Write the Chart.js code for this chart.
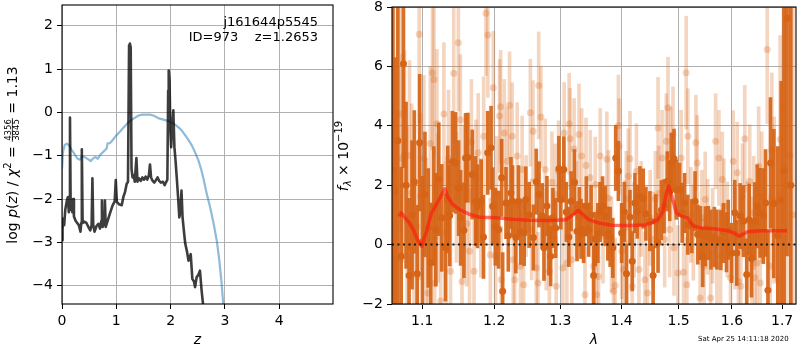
<!DOCTYPE html>
<html>
<head>
<meta charset="utf-8">
<title>p(z) and spectrum</title>
<script src="https://cdn.jsdelivr.net/npm/chart.js@4.4.1/dist/chart.umd.min.js"></script>
<style>
  html, body { margin: 0; padding: 0; background: #fff; }
  body { width: 800px; height: 350px; position: relative; overflow: hidden; }
  canvas { position: absolute; top: 0; }
  #pzChart { left: 0; width: 334px; height: 350px; }
  #specChart { left: 334px; width: 466px; height: 350px; }
  #stamp { position: absolute; left: 698px; top: 335px; font: 7px "DejaVu Sans"; color: #000; white-space: nowrap; }
</style>
</head>
<body>
<canvas id="pzChart" width="334" height="350"></canvas>
<canvas id="specChart" width="466" height="350"></canvas>
<div id="stamp">Sat Apr 25 14:11:18 2020</div>
<script>
Chart.defaults.font.family = "'DejaVu Sans', sans-serif";
Chart.defaults.font.size = 14;
Chart.defaults.color = '#000';
Chart.defaults.animation = false;

// ---- left panel: log p(z) and prior
const zPdf = [0.00,0.01,0.025,0.04,0.06,0.09,0.11,0.125,0.135,0.147,
  0.16,0.175,0.19,0.205,0.22,0.25,0.28,0.31,0.34,0.355,
  0.365,0.38,0.41,0.45,0.49,0.52,0.545,0.56,0.575,0.6,
  0.635,0.67,0.7,0.725,0.735,0.75,0.775,0.79,0.805,0.84,
  0.88,0.93,0.97,0.99,1.01,1.05,1.1,1.13,1.16,1.19,
  1.215,1.235,1.25,1.265,1.28,1.3,1.32,1.34,1.37,1.39,
  1.42,1.45,1.48,1.51,1.54,1.57,1.6,1.62,1.64,1.67,
  1.7,1.73,1.76,1.79,1.82,1.86,1.89,1.92,1.94,1.955,
  1.965,1.98,1.995,2.01,2.03,2.05,2.07,2.09,2.11,2.14,
  2.16,2.18,2.2,2.22,2.25,2.27,2.3,2.33,2.37,2.4,
  2.43,2.45,2.48,2.51,2.54,2.57,2.62,2.67];
const logPdf = [-2.95,-2.7,-2.45,-2.6,-2.25,-2.03,-1.95,-2.3,-1.95,-0.12,
  -2.25,-2.0,-2.3,-2.0,-2.4,-2.5,-2.55,-2.6,-2.75,-2.55,
  -0.85,-2.55,-2.52,-2.55,-2.65,-2.72,-2.6,-1.52,-2.6,-2.75,
  -2.62,-2.57,-2.68,-2.5,-2.03,-2.64,-2.5,-2.03,-2.64,-2.5,
  -2.34,-2.15,-2.05,-1.56,-2.06,-2.12,-2.14,-1.95,-1.84,-1.65,
  -1.6,1.55,1.59,1.5,-1.3,-1.5,-1.45,-1.6,-1.05,-1.6,
  -1.52,-1.58,-1.5,-1.55,-1.48,-1.55,-1.45,-1.2,-1.5,-1.58,
  -1.62,-1.56,-1.5,-1.58,-1.62,-1.6,-1.68,-1.6,-1.55,0.5,
  0.97,0.75,-0.4,-0.8,-0.3,0.05,-0.8,-1.1,-1.45,-2.0,
  -2.42,-2.3,-1.8,-2.42,-2.8,-3.03,-3.2,-3.42,-3.27,-3.84,
  -3.9,-4.03,-3.8,-3.75,-3.65,-4.1,-4.7,-5.3];
const zPrior = [0.0,0.02,0.05,0.09,0.13,0.17,0.21,0.25,0.29,0.33,
  0.37,0.42,0.47,0.53,0.58,0.62,0.66,0.7,0.75,0.8,
  0.82,0.84,0.88,0.93,1.0,1.07,1.13,1.19,1.25,1.33,
  1.41,1.48,1.56,1.62,1.68,1.73,1.77,1.85,1.96,2.04,
  2.1,2.16,2.22,2.27,2.33,2.39,2.45,2.51,2.56,2.6,
  2.66,2.73,2.79,2.85,2.9,2.94,2.97,3.0];
const logPrior = [-1.3,-0.9,-0.75,-0.72,-0.76,-0.85,-0.92,-1.0,-1.07,-1.09,
  -1.01,-1.03,-1.07,-1.12,-1.05,-1.03,-1.07,-0.98,-0.92,-0.86,
  -0.84,-0.71,-0.71,-0.64,-0.53,-0.44,-0.35,-0.27,-0.2,-0.13,
  -0.07,-0.05,-0.05,-0.05,-0.07,-0.1,-0.13,-0.16,-0.2,-0.25,
  -0.3,-0.36,-0.44,-0.53,-0.64,-0.76,-0.92,-1.1,-1.3,-1.5,
  -1.85,-2.2,-2.55,-2.96,-3.45,-3.96,-4.43,-4.9];
const zRange = [0, 4.99];
const logpRange = [-4.42, 2.48];

// ---- right panel: spectrum (flux x 1e-19)
const waveTicks = [1.1, 1.2, 1.3, 1.4, 1.5, 1.6, 1.7];
const waveRange = [1.0605, 1.7288];
const fluxRange = [-2, 8];
const zeroLine = [0, 0];

const darkWave = [1.0616,1.0642,1.0680,1.0723,1.0753,1.0787,1.0826,1.0865,1.0895,1.0934,
  1.0966,1.1003,1.1036,1.1080,1.1115,1.1155,1.1182,1.1222,1.1263,1.1313,
  1.1345,1.1372,1.1409,1.1454,1.1495,1.1523,1.1569,1.1592,1.1624,1.1686,
  1.1733,1.1761,1.1813,1.1846,1.1907,1.1955,1.1978,1.2017,1.2065,1.2109,
  1.2124,1.2173,1.2207,1.2246,1.2270,1.2319,1.2358,1.2393,1.2443,1.2468,
  1.2518,1.2583,1.2627,1.2669,1.2719,1.2745,1.2791,1.2822,1.2848,1.2884,
  1.2926,1.2977,1.3008,1.3055,1.3094,1.3134,1.3170,1.3224,1.3265,1.3303,
  1.3329,1.3372,1.3416,1.3453,1.3493,1.3534,1.3561,1.3604,1.3640,1.3681,
  1.3725,1.3769,1.3808,1.3852,1.3901,1.3946,1.4001,1.4046,1.4084,1.4142,
  1.4181,1.4227,1.4268,1.4314,1.4371,1.4418,1.4487,1.4544,1.4592,1.4631,
  1.4690,1.4737,1.4796,1.4839,1.4868,1.4916,1.4957,1.5018,1.5065,1.5109,
  1.5168,1.5241,1.5301,1.5351,1.5401,1.5443,1.5493,1.5549,1.5598,1.5662,
  1.5711,1.5786,1.5837,1.5894,1.5927,1.5991,1.6054,1.6093,1.6159,1.6224,
  1.6288,1.6336,1.6381,1.6446,1.6497,1.6553,1.6619,1.6663,1.6711,1.6763,
  1.6831,1.6912,1.6980,1.7041,1.7102,1.7180];
const darkFlux = [2.5,1.8,3.5,-0.39,6.09,2.0,-1.04,1.0,2.11,-0.98,
  3.43,0.1,1.69,0.56,-0.6,1.3,0.5,2.2,0.9,-0.1,
  1.52,0.98,2.79,2.75,1.9,0.9,0.48,2.92,2.93,2.36,
  1.47,1.29,1.46,0.26,3.09,3.26,1.29,0.6,0.5,2.25,
  -1.57,1.4,0.3,1.74,1.46,0.24,1.46,0.43,0.39,1.52,
  1.0,0.24,2.12,1.69,0.96,-0.11,1.3,-0.03,-0.39,0.9,
  0.56,2.55,1.52,2.53,1.1,0.26,1.46,2.1,0.45,0.93,
  0.53,0.39,1.29,0.5,1.0,-1.04,0.19,0.39,1.1,1.29,
  0.96,0.37,0.26,-0.11,2.92,2.48,0.39,1.1,-0.98,0.93,
  -0.56,1.4,1.11,1.63,1.55,1.04,0.79,-1.04,0.79,0.06,
  1.16,1.29,2.13,1.8,2.75,2.89,1.85,1.85,1.07,1.4,
  0.67,0.62,1.46,0.34,0.39,-0.42,0.28,0.39,0.17,0.26,
  0.17,0.15,0.39,0.08,0.5,-0.28,1.07,-0.28,0.96,0.79,
  -1.01,0.84,-0.47,0.79,1.29,1.07,0.96,1.4,-1.54,2.75,
  1.38,0.3,1.5,2.5,7.62,2.0];
const darkErr = [7,4.5,6,3,3.5,2.8,2.6,2.5,2.4,2.3,
  2.3,2.2,2.1,2.0,2.0,2.0,1.9,1.9,1.8,1.8,
  1.8,1.7,1.7,1.7,1.6,1.6,1.6,1.5,1.5,1.5,
  1.5,1.4,1.4,1.4,1.4,1.4,1.3,1.3,1.3,1.3,
  1.3,1.2,1.2,1.2,1.2,1.2,1.2,1.1,1.1,1.1,
  1.1,1.1,1.1,1.1,1.1,1.1,1.0,1.0,1.0,1.0,
  1.0,1.1,1.0,1.1,1.0,1.0,1.0,1.1,1.0,1.0,
  1.0,1.0,1.0,0.9,1.0,1.0,0.9,1.0,1.0,1.0,
  1.0,0.9,1.0,1.0,1.1,1.0,1.0,1.0,1.0,0.9,
  1.0,1.0,0.9,1.0,1.0,0.9,1.0,1.0,0.9,1.0,
  1.0,0.9,1.0,1.0,1.0,1.0,1.0,0.9,1.0,1.0,
  1.0,0.9,1.0,1.0,0.9,1.0,1.0,0.9,1.0,1.0,
  1.0,1.0,1.0,1.0,1.0,1.0,1.1,1.1,1.1,1.2,
  1.2,1.2,1.3,1.3,1.4,1.5,1.6,1.8,2.0,2.2,
  2.5,3,4,6,8,8];

const lightWave = [1.0624,1.0662,1.0710,1.0736,1.0766,1.0800,1.0832,1.0861,1.0891,1.0930,
  1.0960,1.0979,1.1022,1.1055,1.1079,1.1108,1.1137,1.1158,1.1167,1.1198,
  1.1212,1.1248,1.1292,1.1322,1.1355,1.1383,1.1427,1.1464,1.1491,1.1519,
  1.1542,1.1573,1.1608,1.1648,1.1674,1.1711,1.1739,1.1770,1.1807,1.1849,
  1.1881,1.1909,1.1945,1.1988,1.2021,1.2036,1.2079,1.2094,1.2104,1.2148,
  1.2192,1.2225,1.2265,1.2280,1.2302,1.2339,1.2387,1.2413,1.2435,1.2473,
  1.2537,1.2556,1.2578,1.2627,1.2653,1.2664,1.2699,1.2764,1.2780,1.2829,
  1.2868,1.2920,1.2935,1.2972,1.3040,1.3060,1.3103,1.3139,1.3155,1.3182,
  1.3218,1.3253,1.3297,1.3340,1.3394,1.3410,1.3480,1.3534,1.3561,1.3582,
  1.3615,1.3643,1.3689,1.3752,1.3780,1.3830,1.3863,1.3891,1.3946,1.3958,
  1.4001,1.4030,1.4058,1.4080,1.4114,1.4143,1.4181,1.4215,1.4254,1.4297,
  1.4336,1.4400,1.4445,1.4492,1.4544,1.4584,1.4631,1.4643,1.4702,1.4749,
  1.4778,1.4808,1.4838,1.4856,1.4898,1.4916,1.4987,1.5046,1.5090,1.5137,
  1.5150,1.5168,1.5223,1.5269,1.5316,1.5340,1.5395,1.5426,1.5468,1.5490,
  1.5536,1.5592,1.5630,1.5686,1.5711,1.5749,1.5781,1.5813,1.5844,1.5908,
  1.5972,1.6023,1.6058,1.6101,1.6126,1.6171,1.6204,1.6249,1.6292,1.6347,
  1.6391,1.6426,1.6450,1.6492,1.6524,1.6557,1.6587,1.6697,1.6757,1.6791,
  1.6837,1.6924,1.6959,1.7027,1.7081,1.7164,1.7226];
const lightFlux = [2.0,-0.5,4.4,2.9,3.03,0.8,3.0,1.74,-1.0,0.6,
  7.08,1.63,2.9,0.2,-1.63,3.4,5.79,5.56,-1.29,4.07,
  1.24,-1.9,4.4,0.4,2.9,-0.9,5.77,1.6,6.8,4.2,
  -1.24,1.9,0.7,-0.22,3.46,-0.9,2.2,3.09,0.9,3.65,
  7.79,7.06,-0.34,5.28,-0.39,1.74,4.33,4.64,-1.18,3.76,
  2.81,4.69,3.65,-0.51,-1.18,2.98,-0.73,2.53,-1.35,1.3,
  4.44,0.51,3.82,-0.79,-1.29,5.36,4.3,2.53,0.17,-0.9,
  2.1,1.69,-1.4,2.47,-0.79,3.76,-0.62,4.07,3.56,-0.51,
  3.22,1.2,3.71,2.98,-1.69,2.66,2.25,-0.73,2.02,-1.69,
  -1.07,2.98,0.3,2.87,1.57,0.0,-1.57,-1.38,4.01,3.31,
  -0.22,-0.84,0.56,1.54,2.3,2.89,-1.4,0.5,2.47,-0.84,
  1.2,-1.18,-1.63,0.9,0.17,1.54,3.93,1.72,2.92,0.17,
  3.48,4.61,0.51,3.03,3.71,-0.11,-0.96,2.92,-0.93,5.79,
  -1.35,3.65,1.0,0.4,3.43,2.75,-1.8,0.9,-0.73,1.52,
  0.6,-1.8,0.3,3.48,-0.71,2.92,-0.39,2.19,1.29,0.51,
  -1.12,2.81,0.2,2.42,-1.24,-1.4,1.6,3.56,0.3,2.13,
  -0.3,1.07,-1.12,-0.62,2.64,-1.29,1.6,6.57,-0.73,3.18,
  1.5,-1.18,3.54,4.57,2.0,3.0,1.0];
const lightErr = [6,5,4,3.5,3.5,3.2,3.2,3.0,3.0,2.9,
  3.0,2.8,2.8,2.7,2.7,2.6,2.6,2.6,2.5,2.5,
  2.5,2.4,2.4,2.4,2.3,2.3,2.3,2.2,2.3,2.2,
  2.2,2.1,2.1,2.1,2.1,2.0,2.0,2.0,2.0,2.0,
  2.1,2.1,1.9,1.9,1.9,1.9,1.9,1.9,1.8,1.8,
  1.8,1.8,1.8,1.8,1.8,1.8,1.8,1.8,1.8,1.7,
  1.8,1.7,1.7,1.7,1.7,1.8,1.7,1.7,1.7,1.7,
  1.7,1.7,1.7,1.7,1.7,1.7,1.7,1.7,1.7,1.7,
  1.7,1.6,1.7,1.6,1.6,1.6,1.6,1.6,1.6,1.6,
  1.6,1.6,1.6,1.6,1.6,1.6,1.6,1.6,1.7,1.6,
  1.6,1.6,1.6,1.6,1.6,1.6,1.6,1.6,1.6,1.6,
  1.6,1.6,1.6,1.6,1.6,1.6,1.7,1.6,1.6,1.6,
  1.6,1.7,1.6,1.6,1.6,1.6,1.6,1.6,1.6,1.9,
  1.6,1.6,1.6,1.6,1.6,1.6,1.6,1.6,1.6,1.6,
  1.6,1.6,1.6,1.6,1.6,1.6,1.6,1.6,1.6,1.6,
  1.7,1.7,1.7,1.7,1.7,1.8,1.8,1.8,1.8,1.9,
  1.9,1.9,2.0,2.0,2.0,2.1,2.2,2.5,2.4,2.6,
  2.8,3.0,3.5,4.5,6,8,8];

const modelWave = [1.0697,1.0723,1.0775,1.0826,1.0882,1.0947,1.0992,1.1058,1.1124,1.1212,
  1.1306,1.1345,1.1413,1.1509,1.1648,1.1789,1.2035,1.2270,1.2518,1.2771,
  1.2926,1.3082,1.3187,1.3281,1.3346,1.3453,1.3615,1.3836,1.4114,1.4398,
  1.4544,1.4631,1.4720,1.4779,1.4821,1.4868,1.4957,1.5047,1.5168,1.5259,
  1.5412,1.5662,1.5913,1.6042,1.6139,1.6204,1.6300,1.6563,1.6831,1.7102];
const modelFlux = [0.95,1.07,0.9,0.75,0.5,0.11,-0.06,0.45,1.07,1.45,
  1.88,1.6,1.35,1.18,1.02,0.92,0.9,0.85,0.82,0.81,
  0.82,0.84,0.98,1.15,1.04,0.84,0.73,0.65,0.64,0.66,
  0.75,0.84,1.12,1.74,1.97,1.69,1.07,0.96,0.9,0.64,
  0.56,0.53,0.47,0.39,0.28,0.34,0.43,0.47,0.47,0.47];

// ---- helpers
function toXY(xs, ys) {
  return xs.map(function (x, i) { return { x: x, y: ys[i] }; });
}
function toBars(xs, ys, es) {
  return xs.map(function (x, i) { return { x: x, y: [ys[i] - es[i], ys[i] + es[i]] }; });
}
function minus(v) { return String(v).replace('-', '\u2212'); }

const REG = '14px "DejaVu Sans"';
const ITA = 'italic 14px "DejaVu Sans"';
const SML = '10px "DejaVu Sans"';
const SMLI = 'italic 10px "DejaVu Sans"';

function richWidth(ctx, parts) {
  let w = 0;
  parts.forEach(function (p) {
    ctx.font = p.font;
    if (p.num) w += Math.max(ctx.measureText(p.num).width, ctx.measureText(p.den).width) + 2;
    else w += ctx.measureText(p.text).width;
  });
  return w;
}

// vertical text, reading bottom to top; local y equals canvas x
function drawRich(ctx, parts, centerY, baseX) {
  ctx.save();
  ctx.translate(0, centerY);
  ctx.rotate(-Math.PI / 2);
  ctx.fillStyle = '#000';
  ctx.textBaseline = 'alphabetic';
  let x = -richWidth(ctx, parts) / 2;
  parts.forEach(function (p) {
    ctx.font = p.font;
    if (p.num) {
      const w = Math.max(ctx.measureText(p.num).width, ctx.measureText(p.den).width) + 2;
      ctx.textAlign = 'center';
      ctx.fillText(p.num, x + w / 2, p.numBase);
      ctx.fillText(p.den, x + w / 2, p.denBase);
      ctx.fillRect(x, p.bar - 0.4, w, 0.8);
      x += w;
    } else {
      ctx.textAlign = 'left';
      ctx.fillText(p.text, x, baseX + (p.dy || 0));
      x += ctx.measureText(p.text).width;
    }
  });
  ctx.restore();
}

const frameBox = {
  id: 'frameBox',
  afterDatasetsDraw(chart) {
    const a = chart.chartArea, ctx = chart.ctx;
    ctx.save();
    ctx.strokeStyle = '#000';
    ctx.lineWidth = 1.1;
    ctx.strokeRect(a.left, a.top, a.right - a.left, a.bottom - a.top);
    ctx.restore();
  }
};

const pzLabels = {
  id: 'pzLabels',
  afterDraw(chart) {
    const ctx = chart.ctx, a = chart.chartArea;
    ctx.save();
    ctx.fillStyle = '#000';
    ctx.font = '13px "DejaVu Sans"';
    ctx.textAlign = 'right';
    ctx.textBaseline = 'middle';
    ctx.fillText('j161644p5545', 318, 23);
    ctx.fillText('ID=973    z=1.2653', 318, 37.5);
    ctx.font = ITA;
    ctx.textAlign = 'center';
    ctx.fillText('z', (a.left + a.right) / 2, 340);
    ctx.restore();
    drawRich(ctx, [
      { text: 'log ', font: REG }, { text: 'p', font: ITA }, { text: '(', font: REG },
      { text: 'z', font: ITA }, { text: ') / ', font: REG }, { text: '\u03c7', font: ITA },
      { text: '2', font: SML, dy: -6 }, { text: ' = ', font: REG },
      { num: '4356', den: '3845', font: '8.5px "DejaVu Sans"', numBase: 11, denBase: 18.5, bar: 12.3 },
      { text: ' = 1.13', font: REG }
    ], 155, 17.3);
  }
};

const specLabels = {
  id: 'specLabels',
  afterDraw(chart) {
    const ctx = chart.ctx, a = chart.chartArea;
    ctx.save();
    ctx.fillStyle = '#000';
    ctx.font = ITA;
    ctx.textAlign = 'center';
    ctx.textBaseline = 'middle';
    ctx.fillText('\u03bb', (a.left + a.right) / 2, 340);
    ctx.restore();
    drawRich(ctx, [
      { text: 'f', font: ITA }, { text: '\u03bb', font: SMLI, dy: 3 },
      { text: ' \u00d7 10', font: REG }, { text: '\u221219', font: SML, dy: -6 }
    ], 156, 14);
  }
};

const gridStyle = { color: '#b0b0b0', lineWidth: 1, tickColor: '#000', tickLength: 5, offset: false };

// ---- left chart
new Chart(document.getElementById('pzChart'), {
  type: 'line',
  data: {
    datasets: [
      { data: toXY(zPdf, logPdf), borderColor: 'rgba(0,0,0,0.76)', borderWidth: 2.6,
        borderJoinStyle: 'round', pointRadius: 0, order: 1 },
      { data: toXY(zPrior, logPrior), borderColor: 'rgba(31,119,180,0.5)', borderWidth: 2.2,
        borderJoinStyle: 'round', pointRadius: 0, order: 2 }
    ]
  },
  options: {
    responsive: false,
    animation: false,
    layout: { padding: { top: 5, right: 1, left: 0, bottom: 0 } },
    plugins: { legend: { display: false }, tooltip: { enabled: false } },
    scales: {
      x: {
        type: 'linear', min: zRange[0], max: zRange[1], offset: false,
        ticks: { stepSize: 1, includeBounds: false, padding: 4, maxRotation: 0, callback: minus },
        grid: gridStyle, border: { display: false },
        afterFit: function (s) { s.height = 46; s.paddingLeft = 0; s.paddingRight = 0; }
      },
      y: {
        type: 'linear', min: logpRange[0], max: logpRange[1],
        ticks: { stepSize: 1, includeBounds: false, padding: 4, callback: minus },
        grid: gridStyle, border: { display: false },
        afterFit: function (s) { s.width = 62; s.paddingTop = 0; s.paddingBottom = 0; }
      }
    }
  },
  plugins: [frameBox, pzLabels]
});

// ---- right chart
const ORANGE = 'rgb(214,100,22)';
const ORANGE_BAR = 'rgba(214,100,22,0.92)';
const ORANGE_LIGHT = 'rgba(214,100,22,0.27)';

new Chart(document.getElementById('specChart'), {
  type: 'scatter',
  data: {
    datasets: [
      { type: 'line', data: toXY(waveRange, zeroLine), borderColor: '#1a1a1a', borderWidth: 2,
        borderDash: [2, 3.5], pointRadius: 0, order: 1 },
      { type: 'line', data: toXY(modelWave, modelFlux), borderColor: 'rgba(255,25,15,0.62)',
        borderWidth: 3.5, borderJoinStyle: 'round', pointRadius: 0, order: 2 },
      { type: 'scatter', data: toXY(darkWave, darkFlux), backgroundColor: ORANGE,
        pointRadius: 3.5, borderWidth: 0, order: 3 },
      { type: 'bar', data: toBars(darkWave, darkFlux, darkErr), backgroundColor: ORANGE_BAR,
        barThickness: 3, grouped: false, order: 4 },
      { type: 'scatter', data: toXY(lightWave, lightFlux), backgroundColor: ORANGE_LIGHT,
        pointRadius: 3.5, borderWidth: 0, order: 5 },
      { type: 'bar', data: toBars(lightWave, lightFlux, lightErr), backgroundColor: ORANGE_LIGHT,
        barThickness: 3, grouped: false, order: 6 }
    ]
  },
  options: {
    responsive: false,
    animation: false,
    layout: { padding: { top: 7, right: 1, left: 0, bottom: 0 } },
    plugins: { legend: { display: false }, tooltip: { enabled: false } },
    scales: {
      x: {
        type: 'logarithmic', min: waveRange[0], max: waveRange[1], offset: false,
        afterBuildTicks: function (s) { s.ticks = waveTicks.map(function (v) { return { value: v }; }); },
        ticks: { autoSkip: false, maxRotation: 0, padding: 4, callback: function (v) { return Number(v).toFixed(1); } },
        grid: gridStyle, border: { display: false },
        afterFit: function (s) { s.height = 46; s.paddingLeft = 0; s.paddingRight = 0; }
      },
      y: {
        type: 'linear', min: fluxRange[0], max: fluxRange[1], beginAtZero: false,
        ticks: { stepSize: 2, padding: 4, callback: minus },
        grid: gridStyle, border: { display: false },
        afterFit: function (s) { s.width = 58; s.paddingTop = 0; s.paddingBottom = 0; }
      }
    }
  },
  plugins: [frameBox, specLabels]
});
</script>
</body>
</html>
